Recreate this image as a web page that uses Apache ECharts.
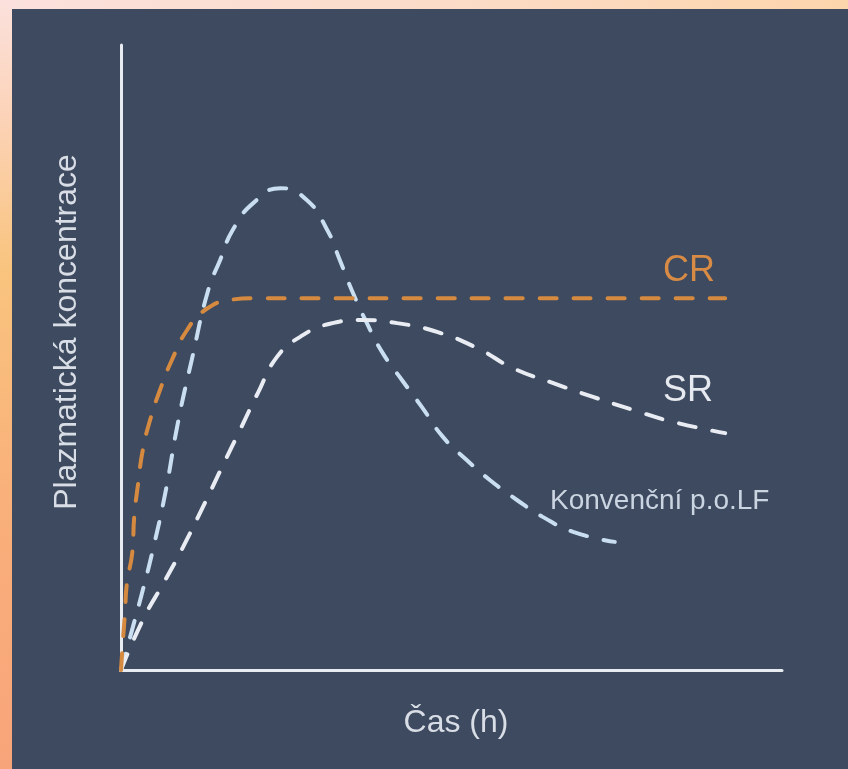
<!DOCTYPE html>
<html>
<head>
<meta charset="utf-8">
<script src="https://cdn.jsdelivr.net/npm/echarts@6/dist/echarts.min.js"></script>
<style>
html,body{margin:0;padding:0;background:#3d4a5f;}
#chart{width:848px;height:769px;}
</style>
</head>
<body>
<div id="chart"></div>
<script>
// Conventional oral dosage form (Konvenční p.o.LF)
const convTime = [0, 1.8, 3.3, 4.7, 6.7, 8.6, 10.7, 13.2, 15.0, 16.9, 20.0, 24.1, 28.1, 31.2, 33.1, 34.9, 37.2, 39.6, 42.5, 45.5, 48.7, 52.3, 55.8, 59.9, 63.8, 68.4, 74.7];
const convConc = [0, 6.9, 12.8, 18.7, 28.3, 39.5, 49.6, 60.8, 65.6, 70.4, 74.7, 77.1, 75.2, 70.4, 65.6, 60.8, 55.5, 50.7, 46.4, 42.1, 37.3, 33.6, 30.4, 27.2, 24.5, 22.1, 20.5];
// Sustained release (SR)
const srTime = [0, 3.3, 6.7, 9.4, 12.4, 15.3, 18.0, 20.7, 23.6, 27.1, 31.6, 36.6, 41.8, 47.8, 53.9, 59.3, 65.4, 71.4, 77.5, 83.5, 91.4];
const srConc = [0, 8.0, 14.4, 19.7, 26.1, 32.5, 38.4, 44.3, 50.1, 53.3, 55.4, 56.0, 55.5, 54.1, 51.5, 48.3, 45.9, 43.7, 41.6, 39.7, 37.9];
// Controlled release (CR)
const crTime = [0, 0.3, 0.6, 0.9, 1.7, 2.0, 2.6, 3.3, 4.4, 5.9, 7.7, 10.0, 12.7, 16.5, 20.0, 30.0, 45.0, 60.0, 75.0, 91.4];
const crConc = [0, 4.8, 9.1, 13.9, 18.7, 24.5, 29.9, 35.2, 40.0, 44.8, 49.6, 54.4, 57.6, 59.2, 59.5, 59.5, 59.5, 59.5, 59.5, 59.5];

const xTitle = 'Čas (h)';
const yTitle = 'Plazmatická koncentrace';
const labelCR = 'CR';
const labelSR = 'SR';
const labelConv = 'Konvenční p.o.LF';

const pairs = (xs, ys) => xs.map((x, i) => [x, ys[i]]);

const font = '"Liberation Sans", Arial, sans-serif';
const chart = echarts.init(document.getElementById('chart'), null, {renderer: 'canvas'});

const dashedLine = (color) => ({
  color: color, width: 4, type: [17, 17], cap: 'round'
});

chart.setOption({
  backgroundColor: '#3d4a5f',
  animation: false,
  grid: {left: 121, top: 45, right: 66, bottom: 99, containLabel: false},
  xAxis: {
    type: 'value', min: 0, max: 100,
    axisLine: {show: true, lineStyle: {color: '#e8ecf1', width: 3}},
    axisTick: {show: false}, axisLabel: {show: false}, splitLine: {show: false}
  },
  yAxis: {
    type: 'value', min: 0, max: 100,
    axisLine: {show: true, lineStyle: {color: '#e8ecf1', width: 3}},
    axisTick: {show: false}, axisLabel: {show: false}, splitLine: {show: false}
  },
  series: [
    {
      name: labelConv, type: 'line', data: pairs(convTime, convConc),
      showSymbol: false, smooth: 0.5,
      lineStyle: dashedLine('#c9dff1'), z: 2
    },
    {
      name: labelSR, type: 'line', data: pairs(srTime, srConc),
      showSymbol: false, smooth: 0.5,
      lineStyle: dashedLine('#e9edf3'), z: 3
    },
    {
      name: labelCR, type: 'line', data: pairs(crTime, crConc),
      showSymbol: false, smooth: 0.5,
      lineStyle: dashedLine('#d68a40'), z: 4
    }
  ],
  graphic: [
    {
      type: 'rect', left: 0, top: 0, z: 100, silent: true,
      shape: {x: 0, y: 0, width: 848, height: 9},
      style: {fill: new echarts.graphic.LinearGradient(0, 0, 1, 0, [
        {offset: 0, color: '#fbe1dd'}, {offset: 0.5, color: '#fbdcc9'}, {offset: 1, color: '#fdd5ac'}
      ])}
    },
    {
      type: 'rect', left: 0, top: 0, z: 100, silent: true,
      shape: {x: 0, y: 0, width: 12, height: 769},
      style: {fill: new echarts.graphic.LinearGradient(0, 0, 0, 1, [
        {offset: 0, color: '#fbe1dd'}, {offset: 0.15, color: '#fcd3b8'},
        {offset: 0.35, color: '#f9c47e'}, {offset: 0.65, color: '#f9b07a'}, {offset: 1, color: '#f8a47a'}
      ])}
    },
    {
      type: 'text', x: 67, y: 332, rotation: Math.PI / 2, z: 50,
      style: {text: yTitle, fill: '#d9dee6', font: '32px ' + font, textAlign: 'center', textVerticalAlign: 'middle'}
    },
    {
      type: 'text', x: 456, y: 723, z: 50,
      style: {text: xTitle, fill: '#d9dee6', font: '32px ' + font, textAlign: 'center', textVerticalAlign: 'middle'}
    },
    {
      type: 'text', x: 663, y: 271, z: 50,
      style: {text: labelCR, fill: '#d88b45', font: '36px ' + font, textAlign: 'left', textVerticalAlign: 'middle'}
    },
    {
      type: 'text', x: 663, y: 391, z: 50,
      style: {text: labelSR, fill: '#e6e9ef', font: '36px ' + font, textAlign: 'left', textVerticalAlign: 'middle'}
    },
    {
      type: 'text', x: 550, y: 501, z: 50,
      style: {text: labelConv, fill: '#cbd4e1', font: '28px ' + font, textAlign: 'left', textVerticalAlign: 'middle'}
    }
  ]
});
</script>
</body>
</html>
